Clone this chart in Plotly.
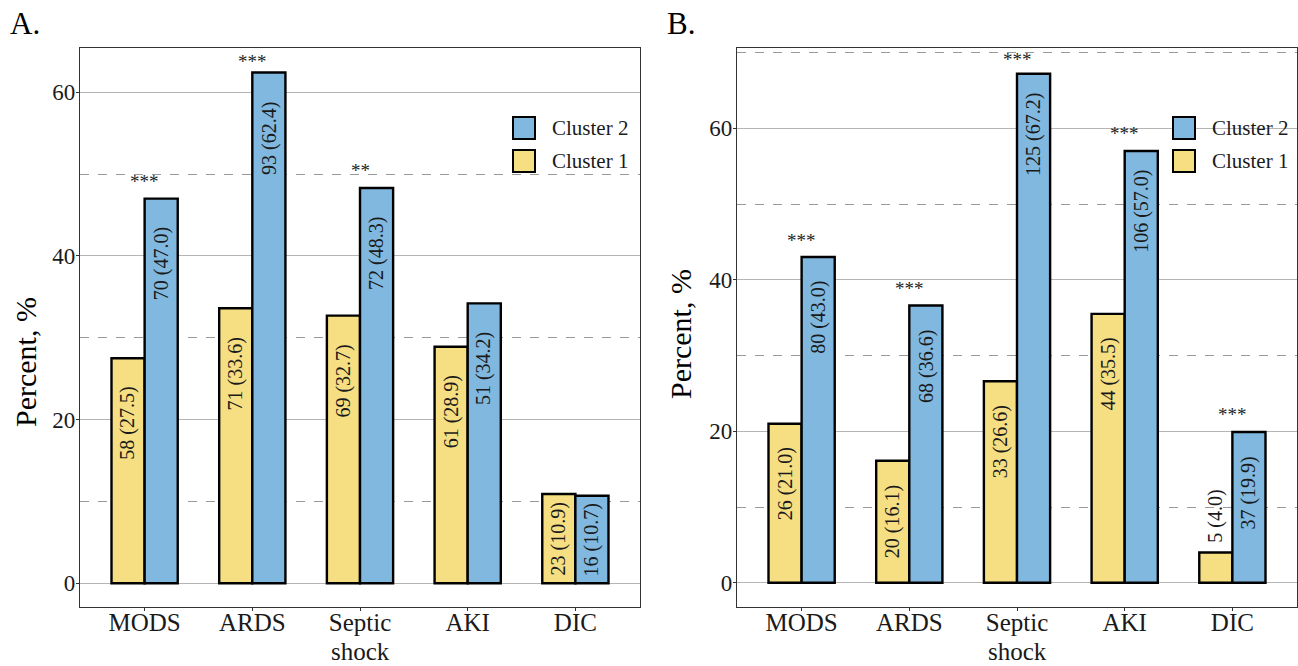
import plotly.graph_objects as go

# ---------------- data ----------------
categories = ["MODS", "ARDS", "Septic<br>shock", "AKI", "DIC"]

A_c1_n = [58, 71, 69, 61, 23]
A_c1_pct = [27.5, 33.6, 32.7, 28.9, 10.9]
A_c2_n = [70, 93, 72, 51, 16]
A_c2_pct = [47.0, 62.4, 48.3, 34.2, 10.7]
A_sig = ["***", "***", "**", "", ""]

B_c1_n = [26, 20, 33, 44, 5]
B_c1_pct = [21.0, 16.1, 26.6, 35.5, 4.0]
B_c2_n = [80, 68, 125, 106, 37]
B_c2_pct = [43.0, 36.6, 67.2, 57.0, 19.9]
B_sig = ["***", "***", "***", "***", "***"]

series_names = ["Cluster 1", "Cluster 2"]
y_title = "Percent, %"

# ---------------- style ----------------
W, H = 1298, 666
FONT = "Liberation Serif, Times New Roman, serif"
YELLOW = "#F6DF82"
BLUE = "#80B8DF"
COLORS = [YELLOW, BLUE]
BARGAP = 0.385
HALF = (1 - BARGAP) / 4  # offset of each bar centre from category centre
XFONT = 25

xpos = list(range(len(categories)))
first_lines = [c.split("<br>")[0] for c in categories]

panelA = dict(c1_n=A_c1_n, c1=A_c1_pct, c2_n=A_c2_n, c2=A_c2_pct, sig=A_sig,
              xa="x", ya="y", yr=[-2.9, 65.4], dom=[80 / W, 640 / W], label="A.", lx=8,
              tx=25, ty=362)
panelB = dict(c1_n=B_c1_n, c1=B_c1_pct, c2_n=B_c2_n, c2=B_c2_pct, sig=B_sig,
              xa="x2", ya="y2", yr=[-3.2, 70.6], dom=[737 / W, 1297 / W], label="B.", lx=665,
              tx=680, ty=334)

fig = go.Figure()
annotations = []
shapes = []


def ypix_to_paper(p):
    return 1 - p / H


ydom = [ypix_to_paper(607), ypix_to_paper(48)]
LBL = dict(family=FONT, size=20, color="#1a1a1a")

for P in (panelA, panelB):
    for k, (vals, ns) in enumerate(((P["c1"], P["c1_n"]), (P["c2"], P["c2_n"]))):
        fig.add_trace(go.Bar(
            x=xpos, y=vals, name=series_names[k],
            marker=dict(color=COLORS[k], line=dict(color="black", width=2.4)),
            xaxis=P["xa"], yaxis=P["ya"], showlegend=False,
        ))
        off = -HALF if k == 0 else HALF
        for i, (v, n) in enumerate(zip(vals, ns)):
            txt = f"{n} ({v:.1f})"
            if v >= 8:
                annotations.append(dict(
                    x=i + off, y=max(v - 8, v / 2), xref=P["xa"], yref=P["ya"], text=txt,
                    textangle=-90, showarrow=False, xanchor="center", yanchor="middle",
                    font=LBL))
            else:
                annotations.append(dict(
                    x=i + off, y=v + 1.2, xref=P["xa"], yref=P["ya"], text=txt,
                    textangle=-90, showarrow=False, xanchor="center", yanchor="bottom",
                    borderpad=0, font=LBL))
    # significance stars
    for i, s in enumerate(P["sig"]):
        if s:
            top = max(P["c1"][i], P["c2"][i])
            yv = min(top + 0.6, P["yr"][1] - 3.2)
            annotations.append(dict(
                x=i, y=yv, xref=P["xa"], yref=P["ya"], text=s, showarrow=False,
                xanchor="center", yanchor="bottom",
                font=dict(family=FONT, size=19, color="#222222")))
    # second lines of multi-line category labels
    for i, c in enumerate(categories):
        parts = c.split("<br>")
        for j, extra in enumerate(parts[1:], start=1):
            annotations.append(dict(
                x=i, y=0, xref=P["xa"], yref="paper", text=extra,
                showarrow=False, xanchor="center", yanchor="bottom", borderpad=0,
                font=dict(family=FONT, size=XFONT, color="#1a1a1a")))
    # y-axis title
    annotations.append(dict(
        x=P["tx"] / W, y=ypix_to_paper(P["ty"]), xref="paper", yref="paper", text=y_title,
        textangle=-90, showarrow=False, xanchor="center", yanchor="middle",
        font=dict(family=FONT, size=30, color="black")))
    # panel label
    annotations.append(dict(
        x=P["lx"] / W, y=ypix_to_paper(4), xref="paper", yref="paper", text=P["label"],
        showarrow=False, xanchor="left", yanchor="top",
        font=dict(family=FONT, size=31, color="black")))

# custom legends (Cluster 2 above Cluster 1)
legend_specs = [(513, 550), (1173, 1210)]
for sx, tx in legend_specs:
    for k, cy in ((1, 128), (0, 161)):
        shapes.append(dict(type="rect", xref="paper", yref="paper",
                           x0=sx / W, x1=(sx + 22) / W,
                           y0=ypix_to_paper(cy + 11), y1=ypix_to_paper(cy - 11),
                           fillcolor=COLORS[k], line=dict(color="black", width=2)))
        annotations.append(dict(x=tx / W, y=ypix_to_paper(cy), xref="paper", yref="paper",
                                text=series_names[k], showarrow=False,
                                xanchor="left", yanchor="middle",
                                font=dict(family=FONT, size=21, color="#1a1a1a")))

axis_common = dict(
    showline=True, mirror=True, linecolor="#333333", linewidth=1.3,
    ticks="outside", ticklen=3, tickcolor="#333333", tickwidth=1,
    zeroline=False, automargin=False,
)

for P, xname, yname in ((panelA, "xaxis", "yaxis"), (panelB, "xaxis2", "yaxis2")):
    fig.layout[xname] = dict(
        domain=P["dom"], anchor=P["ya"], range=[-0.6, 4.6],
        tickmode="array", tickvals=xpos, ticktext=first_lines, ticklabelstandoff=-10,
        showgrid=False, tickfont=dict(family=FONT, size=XFONT, color="#1a1a1a"),
        **axis_common)
    fig.layout[yname] = dict(
        domain=ydom, anchor=P["xa"], range=P["yr"],
        tickmode="linear", tick0=0, dtick=20, ticklabelstandoff=-4,
        showgrid=True, gridcolor="#b5b5b5", gridwidth=1.3,
        minor=dict(dtick=10, tick0=0, showgrid=True, gridcolor="#9a9a9a",
                   griddash="dash", gridwidth=1, ticks=""),
        tickfont=dict(family=FONT, size=23, color="#1a1a1a"),
        **axis_common)

fig.update_layout(
    width=W, height=H, margin=dict(l=0, r=0, t=0, b=0, autoexpand=False),
    paper_bgcolor="white", plot_bgcolor="white",
    barmode="group", bargap=BARGAP, bargroupgap=0,
    annotations=annotations, shapes=shapes,
    font=dict(family=FONT),
)

fig.write_html("out.html")
